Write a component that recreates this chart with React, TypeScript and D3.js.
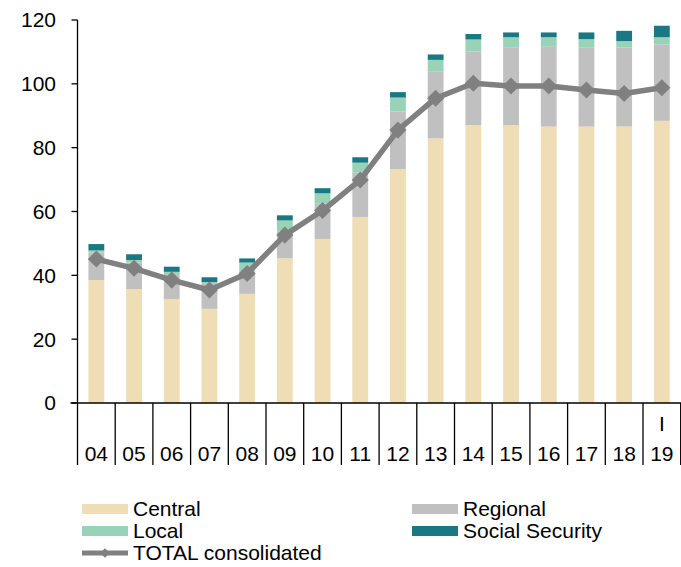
import React from "react";
import * as d3 from "d3";

const categories = ["04","05","06","07","08","09","10","11","12","13","14","15","16","17","18","19"];
const topLabels = ["","","","","","","","","","","","","","","","I"];
const central = [38.5,35.7,32.6,29.5,34.2,45.4,51.4,58.3,73.3,82.9,87.1,87.1,86.6,86.6,86.6,88.4];
const regional = [8.7,8.3,7.8,7.8,6.9,8.3,11.2,13.9,18.0,20.9,23.0,24.2,25.0,24.7,24.8,24.0];
const local = [0.6,0.8,0.7,0.6,2.9,3.5,3.1,3.1,4.4,3.7,3.8,3.3,3.0,2.7,2.0,2.2];
const socialSecurity = [2.0,1.8,1.6,1.5,1.3,1.6,1.6,1.7,1.7,1.7,1.7,1.5,1.5,2.1,3.2,3.6];
const totalConsolidated = [45.1,42.2,38.5,35.4,40.6,52.6,60.3,69.9,85.5,95.5,100.2,99.3,99.3,98.1,97.0,98.8];
const yTicks = [0,20,40,60,80,100,120];

const seriesNames = ["Central","Regional","Local","Social Security"];
const seriesColors = ["#EEDDB5","#C0C0C0","#99D3B7","#1A7885"];
const lineName = "TOTAL consolidated";
const lineColor = "#808080";

export default function App() {
  const W = 681, H = 567;
  const x0 = 77.5, x1 = 680.7;
  const yTop = 20, yBot = 403;
  const font = "'Liberation Sans', Arial, sans-serif";
  const fs = 21;

  const x = d3.scaleBand<string>().domain(categories).range([x0, x1]).paddingInner(0.58).paddingOuter(0.29);
  const y = d3.scaleLinear().domain([0, 120]).range([yBot, yTop]);
  const step = x.step();

  const rows = categories.map((c, i) => ({
    cat: c,
    Central: central[i],
    Regional: regional[i],
    Local: local[i],
    "Social Security": socialSecurity[i],
  }));
  const stack = d3.stack<any>().keys(seriesNames)(rows);

  const cx = (c: string) => (x(c) as number) + x.bandwidth() / 2;
  const line = d3.line<number>().x((_, i) => cx(categories[i])).y(d => y(d));
  const diamond = d3.symbol().type(d3.symbolSquare).size(145)();
  const diamondSmall = d3.symbol().type(d3.symbolSquare).size(45)();

  const legend = [
    { name: seriesNames[0], color: seriesColors[0], lx: 82, ly: 509 },
    { name: seriesNames[1], color: seriesColors[1], lx: 412, ly: 509 },
    { name: seriesNames[2], color: seriesColors[2], lx: 82, ly: 531 },
    { name: seriesNames[3], color: seriesColors[3], lx: 412, ly: 531 },
  ];

  return (
    <svg width={W} height={H} style={{ position: "absolute", left: 0, top: 0, background: "#fff" }} fontFamily={font}>
      {stack.map((s, si) => (
        <g key={si} fill={seriesColors[si]}>
          {s.map((d, i) => (
            <rect key={i} x={x(categories[i])} y={y(d[1])} width={x.bandwidth()} height={Math.max(0, y(d[0]) - y(d[1]))} />
          ))}
        </g>
      ))}
      <line x1={x0} x2={x0} y1={yTop} y2={yBot} stroke="#000" strokeWidth={1.3} />
      {yTicks.map(t => (
        <g key={t}>
          <line x1={x0 - 6} x2={x0} y1={y(t)} y2={y(t)} stroke="#000" strokeWidth={1.3} />
          <text x={56} y={y(t)} dy="0.35em" textAnchor="end" fontSize={fs} fill="#000">{t}</text>
        </g>
      ))}
      <line x1={x0 - 7} x2={W} y1={yBot} y2={yBot} stroke="#000" strokeWidth={1.3} />
      {d3.range(categories.length + 1).map(i => (
        <line key={i} x1={x0 + i * step} x2={x0 + i * step} y1={yBot} y2={465} stroke="#000" strokeWidth={1.3} />
      ))}
      {categories.map((c, i) => (
        <g key={c}>
          <text x={cx(c)} y={461} textAnchor="middle" fontSize={fs} fill="#000">{c}</text>
          {topLabels[i] && <text x={cx(c)} y={431} textAnchor="middle" fontSize={fs} fill="#000">{topLabels[i]}</text>}
        </g>
      ))}
      <path d={line(totalConsolidated) || ""} fill="none" stroke={lineColor} strokeWidth={5.5} strokeLinejoin="round" />
      {totalConsolidated.map((v, i) => (
        <path key={i} d={diamond || ""} transform={`translate(${cx(categories[i])},${y(v)}) rotate(45)`} fill={lineColor} />
      ))}
      {legend.map(l => (
        <g key={l.name}>
          <rect x={l.lx} y={l.ly - 5} width={46} height={10} fill={l.color} />
          <text x={l.lx + 51} y={l.ly} dy="0.35em" fontSize={fs} fill="#000">{l.name}</text>
        </g>
      ))}
      <g>
        <line x1={82} x2={128} y1={553} y2={553} stroke={lineColor} strokeWidth={5} />
        <path d={diamondSmall || ""} transform={`translate(105,553) rotate(45)`} fill={lineColor} />
        <text x={133} y={553} dy="0.35em" fontSize={fs} fill="#000">{lineName}</text>
      </g>
    </svg>
  );
}
